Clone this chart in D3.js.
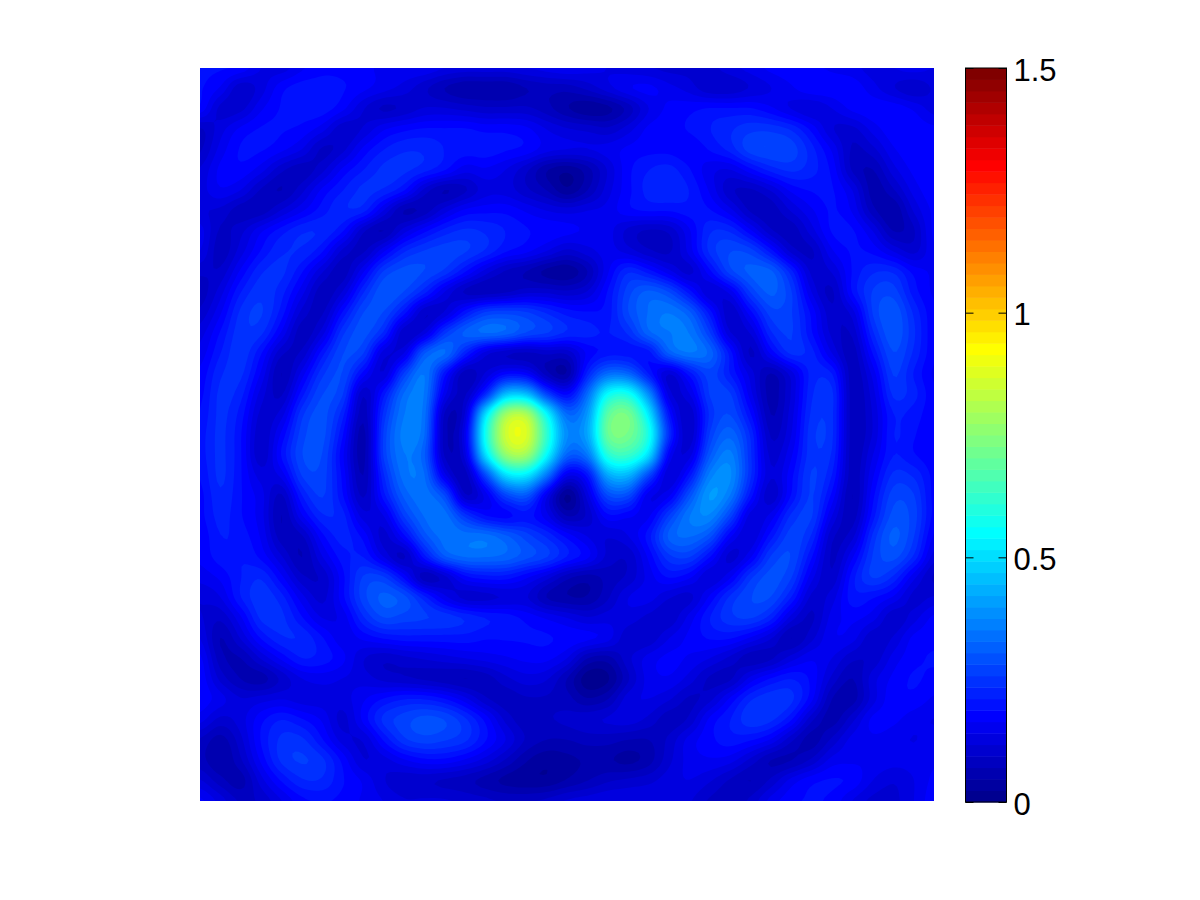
<!DOCTYPE html>
<html>
<head>
<meta charset="utf-8">
<style>html,body{margin:0;padding:0;background:#fff}svg{display:block}</style>
<script src="https://cdn.jsdelivr.net/npm/d3@7"></script>
</head>
<body>
<svg id="chart" width="1200" height="900"></svg>
<script>
const colorbarTicks = [0, 0.5, 1, 1.5];
const colorDomain = [0, 1.5];
const levelCount = 64;
const jetStops = [0, 0.125, 0.375, 0.625, 0.875, 1];
const jetColors = ["#000080", "#0000ff", "#00ffff", "#ffff00", "#ff0000", "#800000"];
const field = [
[.19,.19,.18,.14,.13,.16,.18,.18,.17,.16,.16,.16,.14,.13,.13,.13,.14,.15,.16,.15,.14,.13,.12,.11,.11,.11,.13,.15,.17,.18,.17,.16,.15,.13,.14,.15,.14],
[.19,.16,.10,.13,.18,.20,.20,.19,.17,.15,.13,.10,.07,.05,.05,.05,.07,.08,.08,.10,.13,.16,.17,.15,.13,.10,.10,.12,.14,.16,.18,.18,.18,.15,.12,.10,.12],
[.18,.11,.11,.16,.19,.20,.20,.17,.12,.09,.10,.12,.12,.11,.10,.10,.10,.08,.05,.03,.04,.08,.14,.17,.18,.19,.19,.19,.17,.14,.12,.14,.17,.18,.18,.16,.13],
[.09,.13,.17,.19,.19,.18,.15,.10,.12,.16,.18,.19,.19,.19,.18,.18,.17,.14,.12,.11,.10,.13,.17,.18,.19,.21,.23,.25,.25,.23,.18,.12,.11,.15,.18,.18,.17],
[.09,.15,.19,.19,.17,.14,.09,.11,.17,.21,.23,.23,.21,.20,.20,.19,.18,.15,.14,.14,.15,.17,.18,.18,.17,.19,.22,.27,.28,.27,.22,.16,.09,.11,.16,.18,.18],
[.12,.17,.18,.15,.10,.08,.11,.17,.21,.24,.24,.22,.19,.15,.16,.14,.10,.05,.03,.06,.12,.18,.21,.22,.19,.15,.14,.18,.22,.24,.22,.18,.09,.07,.13,.17,.18],
[.13,.16,.14,.09,.07,.11,.17,.21,.24,.23,.19,.11,.07,.09,.13,.13,.10,.07,.03,.07,.13,.18,.22,.23,.21,.16,.10,.09,.12,.17,.19,.19,.14,.06,.09,.15,.18],
[.12,.11,.08,.08,.12,.16,.20,.23,.22,.14,.07,.08,.13,.17,.18,.18,.16,.14,.13,.14,.15,.18,.19,.19,.20,.19,.15,.09,.08,.12,.16,.19,.16,.08,.05,.12,.17],
[.15,.09,.11,.16,.20,.23,.23,.19,.10,.07,.13,.18,.22,.24,.23,.21,.19,.18,.17,.16,.15,.11,.09,.10,.16,.23,.23,.17,.10,.08,.13,.19,.19,.14,.07,.09,.17],
[.14,.08,.13,.19,.23,.23,.19,.11,.09,.16,.23,.26,.27,.26,.23,.19,.17,.14,.11,.13,.15,.13,.10,.09,.15,.24,.28,.27,.20,.11,.09,.16,.19,.18,.14,.11,.16],
[.10,.10,.17,.23,.24,.19,.12,.08,.16,.26,.29,.28,.25,.19,.13,.09,.07,.04,.03,.07,.16,.23,.20,.15,.11,.18,.27,.31,.31,.22,.11,.12,.19,.23,.23,.18,.16],
[.08,.13,.21,.25,.22,.15,.08,.12,.23,.30,.28,.22,.14,.09,.08,.09,.11,.11,.10,.12,.19,.27,.31,.28,.20,.12,.15,.26,.31,.26,.14,.09,.19,.26,.27,.20,.16],
[.10,.16,.24,.26,.20,.11,.09,.19,.28,.28,.20,.10,.12,.20,.26,.27,.26,.23,.20,.19,.20,.28,.33,.35,.31,.20,.10,.18,.27,.26,.18,.10,.13,.26,.30,.23,.17],
[.13,.19,.25,.24,.16,.08,.13,.25,.29,.23,.10,.13,.25,.31,.33,.32,.28,.26,.23,.22,.21,.24,.32,.35,.35,.26,.12,.12,.23,.26,.19,.11,.10,.23,.30,.24,.17],
[.15,.21,.25,.19,.10,.10,.20,.28,.26,.13,.14,.30,.33,.22,.13,.10,.09,.10,.10,.17,.20,.20,.20,.31,.35,.32,.20,.09,.17,.24,.22,.14,.08,.19,.28,.23,.17],
[.17,.23,.24,.16,.07,.15,.25,.28,.18,.12,.26,.35,.20,.08,.12,.18,.17,.08,.05,.22,.33,.32,.21,.12,.20,.27,.21,.13,.07,.13,.22,.21,.08,.15,.26,.21,.16],
[.18,.24,.22,.13,.09,.20,.28,.26,.10,.20,.33,.35,.15,.09,.23,.45,.45,.27,.18,.33,.55,.57,.38,.13,.14,.26,.26,.15,.06,.12,.23,.24,.08,.13,.24,.22,.17],
[.19,.24,.20,.11,.13,.25,.29,.22,.08,.24,.35,.34,.09,.12,.50,.78,.80,.55,.33,.40,.68,.72,.52,.20,.10,.24,.28,.19,.07,.13,.24,.24,.08,.12,.21,.20,.17],
[.20,.24,.19,.10,.17,.27,.29,.19,.06,.26,.36,.33,.08,.15,.57,.85,.87,.62,.38,.42,.70,.72,.58,.24,.10,.26,.32,.23,.09,.14,.25,.24,.08,.12,.21,.19,.17],
[.20,.24,.19,.10,.19,.28,.28,.17,.06,.26,.35,.31,.09,.13,.50,.76,.78,.55,.32,.35,.60,.63,.50,.17,.13,.30,.36,.24,.11,.16,.25,.23,.08,.14,.21,.19,.17],
[.19,.24,.19,.13,.15,.26,.27,.18,.07,.23,.34,.33,.15,.08,.28,.50,.52,.35,.15,.20,.42,.44,.28,.12,.20,.36,.38,.24,.12,.18,.26,.21,.08,.16,.24,.23,.18],
[.18,.23,.19,.15,.09,.21,.26,.19,.09,.20,.31,.34,.28,.10,.15,.27,.30,.15,.02,.13,.28,.28,.15,.16,.29,.40,.35,.20,.10,.19,.26,.18,.07,.18,.27,.26,.18],
[.18,.22,.19,.15,.07,.16,.23,.22,.13,.14,.26,.33,.34,.25,.19,.18,.20,.15,.07,.10,.18,.17,.16,.26,.35,.37,.27,.13,.15,.24,.26,.14,.08,.20,.29,.27,.18],
[.17,.21,.20,.16,.08,.09,.18,.22,.18,.11,.18,.29,.34,.34,.34,.31,.27,.23,.18,.14,.12,.14,.20,.31,.33,.29,.17,.12,.20,.27,.23,.10,.11,.24,.31,.26,.16],
[.17,.20,.21,.18,.12,.07,.14,.20,.21,.14,.09,.20,.30,.33,.33,.32,.29,.26,.21,.17,.11,.10,.17,.25,.26,.19,.11,.16,.26,.28,.19,.09,.16,.26,.29,.23,.13],
[.15,.17,.21,.23,.17,.10,.10,.18,.26,.26,.18,.08,.11,.18,.20,.20,.17,.13,.08,.06,.08,.10,.15,.19,.17,.12,.16,.25,.29,.26,.15,.10,.20,.26,.23,.15,.09],
[.12,.14,.21,.25,.22,.15,.11,.18,.27,.31,.29,.22,.15,.11,.11,.12,.12,.07,.05,.05,.09,.14,.15,.12,.11,.17,.24,.28,.28,.21,.11,.13,.20,.19,.16,.11,.12],
[.12,.10,.16,.24,.24,.19,.14,.15,.23,.28,.27,.26,.25,.23,.21,.20,.18,.16,.14,.12,.13,.13,.11,.10,.15,.21,.25,.26,.22,.13,.09,.15,.17,.15,.10,.13,.17],
[.14,.07,.12,.19,.23,.23,.19,.15,.17,.19,.20,.20,.20,.20,.19,.19,.19,.19,.18,.17,.15,.10,.10,.14,.17,.19,.19,.16,.12,.07,.11,.16,.15,.10,.12,.17,.18],
[.17,.08,.07,.12,.17,.21,.20,.17,.12,.10,.11,.12,.13,.14,.15,.16,.17,.17,.14,.07,.06,.11,.15,.17,.16,.14,.11,.08,.09,.13,.16,.14,.10,.10,.15,.18,.19],
[.18,.11,.07,.06,.10,.14,.15,.14,.13,.11,.10,.09,.08,.07,.08,.11,.13,.12,.07,.01,.02,.09,.15,.16,.13,.09,.09,.15,.19,.21,.18,.11,.07,.13,.17,.19,.18],
[.18,.15,.12,.13,.14,.13,.13,.13,.16,.19,.21,.21,.19,.15,.10,.08,.09,.09,.08,.05,.07,.13,.14,.12,.09,.11,.17,.23,.25,.24,.17,.07,.06,.13,.18,.18,.16],
[.15,.11,.13,.18,.21,.19,.16,.11,.17,.24,.27,.29,.28,.24,.18,.11,.08,.09,.10,.11,.12,.13,.11,.08,.10,.17,.21,.25,.24,.19,.10,.06,.11,.17,.17,.15,.14],
[.09,.06,.11,.19,.24,.24,.19,.13,.12,.19,.25,.27,.26,.24,.19,.14,.09,.07,.07,.08,.08,.07,.07,.10,.15,.18,.20,.19,.16,.10,.06,.10,.15,.16,.15,.14,.15],
[.08,.05,.09,.17,.24,.26,.24,.18,.12,.13,.16,.18,.18,.16,.13,.09,.05,.03,.04,.05,.05,.04,.06,.11,.15,.16,.15,.11,.07,.07,.10,.15,.16,.16,.15,.15,.16],
[.12,.08,.06,.13,.19,.23,.23,.19,.16,.12,.10,.10,.09,.08,.06,.04,.03,.03,.05,.07,.09,.10,.11,.13,.14,.12,.09,.07,.10,.15,.18,.19,.18,.14,.12,.14,.17],
[.17,.13,.09,.10,.14,.18,.19,.18,.16,.14,.12,.12,.12,.11,.10,.09,.09,.10,.12,.13,.14,.14,.14,.13,.12,.09,.08,.10,.15,.18,.19,.18,.14,.11,.11,.14,.18]
];

const plot = {left: 200, right: 934, top: 68, bottom: 801};
const bar = {left: 965.5, right: 1006.5, top: 68, bottom: 802};
const svg = d3.select("#chart");

const jet = d3.scaleLinear().domain(jetStops).range(jetColors).interpolate(d3.interpolateRgb);
const levels = d3.range(levelCount).map(k => colorDomain[0] + k * (colorDomain[1] - colorDomain[0]) / levelCount);
const levelColor = d3.scaleQuantize().domain(colorDomain).range(d3.range(levelCount).map(k => jet((k + 1) / levelCount)));

// Shaded surface: smooth display resampling of the read grid, as with interpolated shading.
const rows = field.length, cols = field[0].length, factor = 6;
const clampAt = (arr, i) => arr[Math.max(0, Math.min(arr.length - 1, i))];
function cubic(arr, u) {
  const i = Math.min(Math.floor(u), arr.length - 2), t = u - i;
  const a = clampAt(arr, i - 1), b = clampAt(arr, i), c = clampAt(arr, i + 1), d = clampAt(arr, i + 2);
  return b + 0.5 * t * (c - a + t * (2 * a - 5 * b + 4 * c - d + t * (3 * (b - c) + d - a)));
}
const fineCols = (cols - 1) * factor + 1, fineRows = (rows - 1) * factor + 1;
const fineByRow = field.map(r => d3.range(fineCols).map(i => cubic(r, i / factor)));
const fine = new Float64Array(fineCols * fineRows);
for (let i = 0; i < fineCols; i++) {
  const column = fineByRow.map(r => r[i]);
  for (let j = 0; j < fineRows; j++) fine[j * fineCols + i] = Math.max(0.001, cubic(column, j / factor));
}
const xGrid = d3.scaleLinear().domain([0.5, fineCols - 0.5]).range([plot.left, plot.right]);
const yGrid = d3.scaleLinear().domain([0.5, fineRows - 0.5]).range([plot.top, plot.bottom]);
const contours = d3.contours().size([fineCols, fineRows]).thresholds(levels)(fine);
const path = d3.geoPath(d3.geoTransform({point(x, y) { this.stream.point(xGrid(x), yGrid(y)); }}));

svg.append("clipPath").attr("id", "plotClip").append("rect")
  .attr("x", plot.left).attr("y", plot.top)
  .attr("width", plot.right - plot.left).attr("height", plot.bottom - plot.top);
svg.append("g").attr("clip-path", "url(#plotClip)")
  .selectAll("path").data(contours).join("path")
  .attr("d", path)
  .attr("fill", d => levelColor(d.value + 1e-6));

// Colour bar
const yBar = d3.scaleLinear().domain(colorDomain).range([bar.bottom, bar.top]);
svg.append("g").selectAll("rect").data(levels).join("rect")
  .attr("x", bar.left).attr("width", bar.right - bar.left)
  .attr("y", d => yBar(d + 1.5 / levelCount))
  .attr("height", d => yBar(d) - yBar(d + 1.5 / levelCount) + 0.5)
  .attr("fill", d => levelColor(d + 1e-6));
svg.append("rect").attr("x", bar.left).attr("y", bar.top)
  .attr("width", bar.right - bar.left).attr("height", bar.bottom - bar.top)
  .attr("fill", "none").attr("stroke", "#000").attr("stroke-width", 1);
const axisR = d3.axisRight(yBar).tickValues(colorbarTicks).tickSize(-8).tickFormat(d3.format(""));
const gR = svg.append("g").attr("transform", `translate(${bar.right},0)`).call(axisR);
gR.select(".domain").remove();
gR.selectAll("text")
  .attr("x", 7).attr("dy", null).attr("y", 12)
  .attr("font-family", "'Liberation Sans', Arial, sans-serif")
  .attr("font-size", 31).attr("fill", "#000").attr("text-anchor", "start");
const axisL = d3.axisLeft(yBar).tickValues(colorbarTicks).tickSize(-8).tickFormat("");
const gL = svg.append("g").attr("transform", `translate(${bar.left},0)`).call(axisL);
gL.select(".domain").remove();
</script>
</body>
</html>
